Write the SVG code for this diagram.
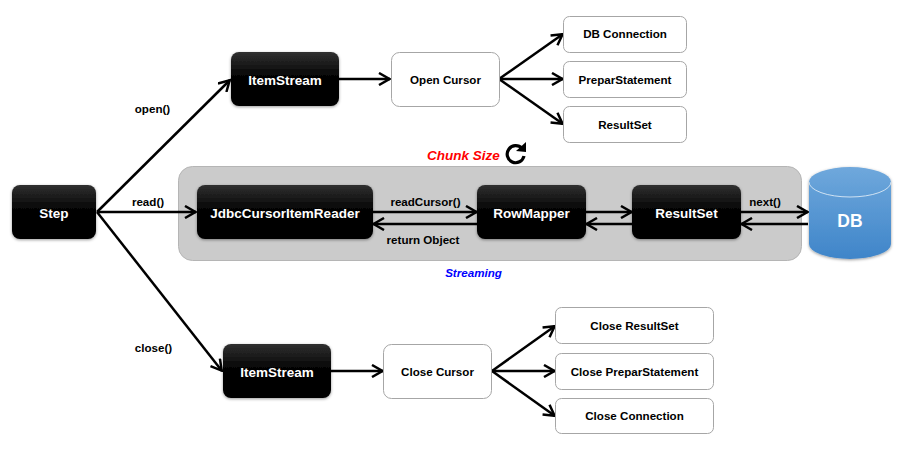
<svg xmlns="http://www.w3.org/2000/svg" width="909" height="451" viewBox="0 0 909 451">
<style>
text{font-family:"Liberation Sans",Arial,sans-serif;font-weight:bold;text-anchor:middle}
.dark rect{fill:url(#blk);filter:url(#sh)}
.dark text{fill:#fff;font-size:13.500px}
.lite rect{fill:#fff;stroke:#a6a6a6;stroke-width:1}
.lite text{fill:#000;font-size:11.600px}
.lab{font-size:11.600px;fill:#000}
.c path{fill:none;stroke:#000;stroke-width:2.500}
</style>
<defs>
<linearGradient id="blk" x1="0" y1="0" x2="0" y2="1"><stop offset="0" stop-color="#303030"/><stop offset="0.5" stop-color="#000"/><stop offset="1" stop-color="#000"/></linearGradient>
<linearGradient id="db" x1="0" y1="0" x2="0" y2="1"><stop offset="0" stop-color="#6fa8dc"/><stop offset="1" stop-color="#3f85c9"/></linearGradient>
<filter id="sh" x="-10%" y="-15%" width="120%" height="135%"><feDropShadow dx="0" dy="1" stdDeviation="1.500" flood-color="#000" flood-opacity="0.4"/></filter>
<marker id="a" viewBox="0 0 14 14" refX="12.500" refY="7" markerWidth="14" markerHeight="14" markerUnits="userSpaceOnUse" orient="auto"><path d="M1.500 1 L12 7 L1.500 13" fill="none" stroke="#000" stroke-width="2.500"/></marker>
</defs>
<g id="chunk-area"><rect x="178.500" y="166.500" width="623" height="94" rx="14" fill="#cbcbcb" stroke="#b5b5b5"/></g>
<g class="c" id="connectors">
<path d="M97 212 L230 80" marker-end="url(#a)"/>
<path d="M97 212 L196 212" marker-end="url(#a)"/>
<path d="M97 212 L222 371" marker-end="url(#a)"/>
<path d="M339 79 L390 79" marker-end="url(#a)"/>
<path d="M499 79 L563 34" marker-end="url(#a)"/>
<path d="M499 79 L563 79" marker-end="url(#a)"/>
<path d="M499 79 L563 124" marker-end="url(#a)"/>
<path d="M331 371 L383 371" marker-end="url(#a)"/>
<path d="M492 371 L555 326" marker-end="url(#a)"/>
<path d="M492 371 L555 371" marker-end="url(#a)"/>
<path d="M492 371 L555 416" marker-end="url(#a)"/>
<path d="M373 212 L477 212" marker-end="url(#a)"/>
<path d="M477 224 L373 224" marker-end="url(#a)"/>
<path d="M586 212 L632 212" marker-end="url(#a)"/>
<path d="M632 224 L586 224" marker-end="url(#a)"/>
<path d="M741 212 L808 212" marker-end="url(#a)"/>
<path d="M808 224 L741 224" marker-end="url(#a)"/>
</g>
<g id="step" class="dark"><rect x="12" y="185" width="84" height="54" rx="8"/><text x="54" y="218">Step</text></g>
<g id="itemstream-open" class="dark"><rect x="231" y="52" width="108" height="54" rx="8"/><text x="285" y="85">ItemStream</text></g>
<g id="itemstream-close" class="dark"><rect x="223" y="344" width="108" height="54" rx="8"/><text x="277" y="377">ItemStream</text></g>
<g id="reader" class="dark"><rect x="197" y="185" width="176" height="54" rx="8"/><text x="285" y="218">JdbcCursorItemReader</text></g>
<g id="rowmapper" class="dark"><rect x="477" y="185" width="109" height="54" rx="8"/><text x="531.500" y="218">RowMapper</text></g>
<g id="resultset-dark" class="dark"><rect x="632" y="185" width="109" height="54" rx="8"/><text x="686.500" y="218">ResultSet</text></g>
<g id="open-cursor" class="lite"><rect x="391.500" y="52.500" width="108" height="54" rx="8"/><text x="445.500" y="84">Open Cursor</text></g>
<g id="close-cursor" class="lite"><rect x="383.500" y="344.500" width="108" height="54" rx="8"/><text x="437.500" y="376">Close Cursor</text></g>
<g id="db-connection" class="lite"><rect x="563.500" y="16.500" width="123" height="36" rx="6"/><text x="625" y="38">DB Connection</text></g>
<g id="prepar" class="lite"><rect x="563.500" y="61.500" width="123" height="36" rx="6"/><text x="625" y="84">PreparStatement</text></g>
<g id="resultset-lite" class="lite"><rect x="563.500" y="106.500" width="123" height="36" rx="6"/><text x="625" y="129">ResultSet</text></g>
<g id="close-resultset" class="lite"><rect x="555.500" y="307.500" width="158" height="36" rx="6"/><text x="634.500" y="330">Close ResultSet</text></g>
<g id="close-prepar" class="lite"><rect x="555.500" y="353.500" width="158" height="36" rx="6"/><text x="634.500" y="376">Close PreparStatement</text></g>
<g id="close-connection" class="lite"><rect x="555.500" y="398.500" width="158" height="35" rx="6"/><text x="634.500" y="420">Close Connection</text></g>
<g id="db"><path d="M809 182 A41 15 0 0 1 891 182 V244 A41 15 0 0 1 809 244 Z" fill="url(#db)" filter="url(#sh)"/><path d="M809 182 A41 15 0 0 0 891 182" fill="none" stroke="#cfe2f3" stroke-width="1"/><text x="850" y="227" fill="#fff" font-size="17.500">DB</text></g>
<g id="labels">
<text class="lab" x="152.500" y="113">open()</text>
<text class="lab" x="148" y="206">read()</text>
<text class="lab" x="153.500" y="352">close()</text>
<text class="lab" x="425.500" y="206">readCursor()</text>
<text class="lab" x="423" y="244">return Object</text>
<text class="lab" x="765" y="206">next()</text>
<text x="463.500" y="160" fill="#f00" font-size="13.500" font-style="italic">Chunk Size</text>
<text x="473.500" y="277" fill="#00f" font-size="11.600" font-style="italic">Streaming</text>
</g>
<g id="cycle"><path d="M522 148.500 A8.500 8.500 0 1 0 524 156" fill="none" stroke="#000" stroke-width="3.200"/><path d="M516 151 L526 152 L526 142 Z" fill="#000"/></g>
</svg>
